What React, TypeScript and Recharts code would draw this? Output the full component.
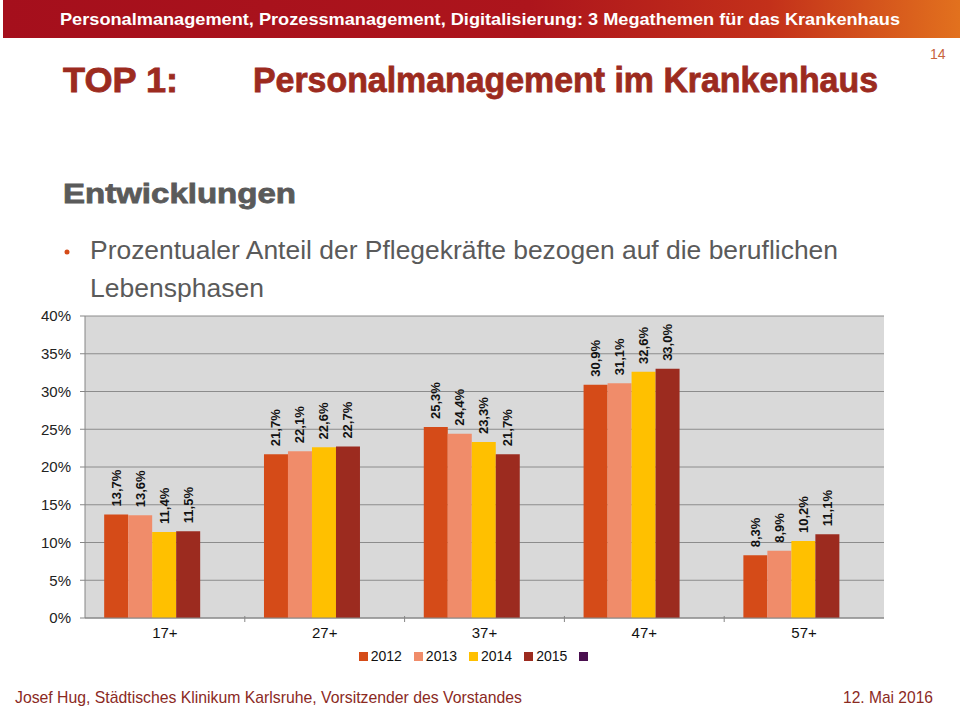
import { BarChart, Bar, XAxis, YAxis, CartesianGrid, Legend, LabelList } from 'recharts';

const categories = ['17+', '27+', '37+', '47+', '57+'];
const yearNames = ['2012', '2013', '2014', '2015', ''];
const values2012 = [13.7, 21.7, 25.3, 30.9, 8.3];
const values2013 = [13.6, 22.1, 24.4, 31.1, 8.9];
const values2014 = [11.4, 22.6, 23.3, 32.6, 10.2];
const values2015 = [11.5, 22.7, 21.7, 33.0, 11.1];
const valuesEmpty = [null, null, null, null, null];
const yTicks = [0, 5, 10, 15, 20, 25, 30, 35, 40];

const seriesColors = ['#D54B18', '#F08C6A', '#FFC000', '#9C2B1F', '#4A0F4F'];
const seriesValues = [values2012, values2013, values2014, values2015, valuesEmpty];

const CHART_W = 900;
const CHART_H = 390;
const MARGIN = { top: 16, right: 16, left: 0, bottom: 12 };
const Y_AXIS_W = 85;
const BAND = (CHART_W - MARGIN.left - MARGIN.right - Y_AXIS_W) / categories.length;

const chartData = categories.map((cat, i) => {
  const row: Record<string, string | number | null> = { category: cat };
  seriesValues.forEach((vals, s) => {
    row['s' + s] = vals[i];
  });
  return row;
});

const ARIAL = "'Liberation Sans', Arial, sans-serif";

function formatPct(v: number) {
  return v.toFixed(1).replace('.', ',') + '%';
}

function BarLabel(props: any) {
  const { x, y, width, value } = props;
  if (value === null || value === undefined) return null;
  const cx = x + width / 2 + 4.5;
  const cy = y - 8;
  return (
    <text
      x={cx}
      y={cy}
      transform={`rotate(-90, ${cx}, ${cy})`}
      textAnchor="start"
      fontFamily={ARIAL}
      fontWeight="bold"
      fontSize={13}
      fill="#111"
    >
      {formatPct(value)}
    </text>
  );
}

function XTick(props: any) {
  const { x, y, payload, index } = props;
  return (
    <g>
      <text x={x} y={y + 12} textAnchor="middle" fontFamily={ARIAL} fontSize={15} fill="#111">
        {payload.value}
      </text>
      {index < categories.length - 1 && (
        <line x1={x + BAND / 2} x2={x + BAND / 2} y1={y - 10} y2={y - 4} stroke="#868686" />
      )}
    </g>
  );
}

function LegendContent() {
  return (
    <div style={{ display: 'flex', justifyContent: 'center', alignItems: 'center', paddingLeft: 78, fontFamily: ARIAL, fontSize: 14, color: '#111' }}>
      {yearNames.map((name, i) => (
        <div key={i} style={{ display: 'flex', alignItems: 'center', marginRight: 12 }}>
          <span style={{ width: 9, height: 9, background: seriesColors[i], display: 'inline-block', marginRight: 3 }} />
          {name && <span>{name}</span>}
        </div>
      ))}
    </div>
  );
}

export default function App() {
  return (
    <div style={{ position: 'absolute', left: 0, top: 0, width: 960, height: 711, background: '#fff', overflow: 'hidden', fontFamily: ARIAL }}>
      <svg width={960} height={711} style={{ position: 'absolute', left: 0, top: 0 }}>
        <defs>
          <linearGradient id="hdr" x1="0" x2="1" y1="0" y2="0">
            <stop offset="0%" stopColor="#A50F1C" />
            <stop offset="55%" stopColor="#AD151C" />
            <stop offset="80%" stopColor="#C3301A" />
            <stop offset="100%" stopColor="#E2711E" />
          </linearGradient>
        </defs>
        <rect x={3} y={0} width={957} height={38} fill="url(#hdr)" />
        <text x={60} y={25} textLength={840} lengthAdjust="spacingAndGlyphs" fill="#fff" fontWeight="bold" fontSize={17} fontFamily={ARIAL}>
          Personalmanagement, Prozessmanagement, Digitalisierung: 3 Megathemen für das Krankenhaus
        </text>
        <text x={930} y={59} fill="#C8643C" fontSize={14} fontFamily={ARIAL}>14</text>
        <text x={63} y={92} textLength={115} lengthAdjust="spacingAndGlyphs" fill="#9C2B1F" fontWeight="bold" fontSize={35} fontFamily={ARIAL} stroke="#9C2B1F" strokeWidth={0.8}>
          TOP 1:
        </text>
        <text x={253} y={92} textLength={625} lengthAdjust="spacingAndGlyphs" fill="#9C2B1F" fontWeight="bold" fontSize={35} fontFamily={ARIAL} stroke="#9C2B1F" strokeWidth={0.8}>
          Personalmanagement im Krankenhaus
        </text>
        <text x={63} y={203} textLength={233} lengthAdjust="spacingAndGlyphs" fill="#5A5A5A" fontWeight="bold" fontSize={28} fontFamily={ARIAL} stroke="#5A5A5A" strokeWidth={0.8}>
          Entwicklungen
        </text>
        <circle cx={67} cy={252} r={2.5} fill="#D54B18" />
        <text x={90} y={259} textLength={748} lengthAdjust="spacingAndGlyphs" fill="#5A5A5A" fontSize={25} fontFamily={ARIAL}>
          Prozentualer Anteil der Pflegekräfte bezogen auf die beruflichen
        </text>
        <text x={90} y={297} textLength={174} lengthAdjust="spacingAndGlyphs" fill="#5A5A5A" fontSize={25} fontFamily={ARIAL}>
          Lebensphasen
        </text>
        <text x={15} y={703} textLength={507} lengthAdjust="spacingAndGlyphs" fill="#8B2A1F" fontSize={17} fontFamily={ARIAL}>
          Josef Hug, Städtisches Klinikum Karlsruhe, Vorsitzender des Vorstandes
        </text>
        <text x={843} y={703} textLength={90} lengthAdjust="spacingAndGlyphs" fill="#8B2A1F" fontSize={17} fontFamily={ARIAL}>
          12. Mai 2016
        </text>
      </svg>

      <div style={{ position: 'absolute', left: 0, top: 300 }}>
        <BarChart width={CHART_W} height={CHART_H} data={chartData} margin={MARGIN} barCategoryGap="12%" barGap={0}>
          <CartesianGrid vertical={false} stroke="#8C8C8C" fill="#D9D9D9" />
          <XAxis
            dataKey="category"
            axisLine={{ stroke: '#868686' }}
            tickLine={false}
            tick={<XTick />}
            height={30}
            interval={0}
          />
          <YAxis
            width={Y_AXIS_W}
            domain={[0, 40]}
            ticks={yTicks}
            tickFormatter={(v: number) => v + '%'}
            axisLine={{ stroke: '#868686' }}
            tickLine={{ stroke: '#868686' }}
            tickSize={5}
            tickMargin={9}
            tick={{ fontFamily: ARIAL, fontSize: 15, fill: '#222' }}
          />
          <Legend verticalAlign="bottom" height={30} content={<LegendContent />} />
          {yearNames.map((name, i) => (
            <Bar key={i} dataKey={'s' + i} name={name || ' '} fill={seriesColors[i]} isAnimationActive={false}>
              <LabelList dataKey={'s' + i} content={<BarLabel />} />
            </Bar>
          ))}
        </BarChart>
      </div>
    </div>
  );
}
